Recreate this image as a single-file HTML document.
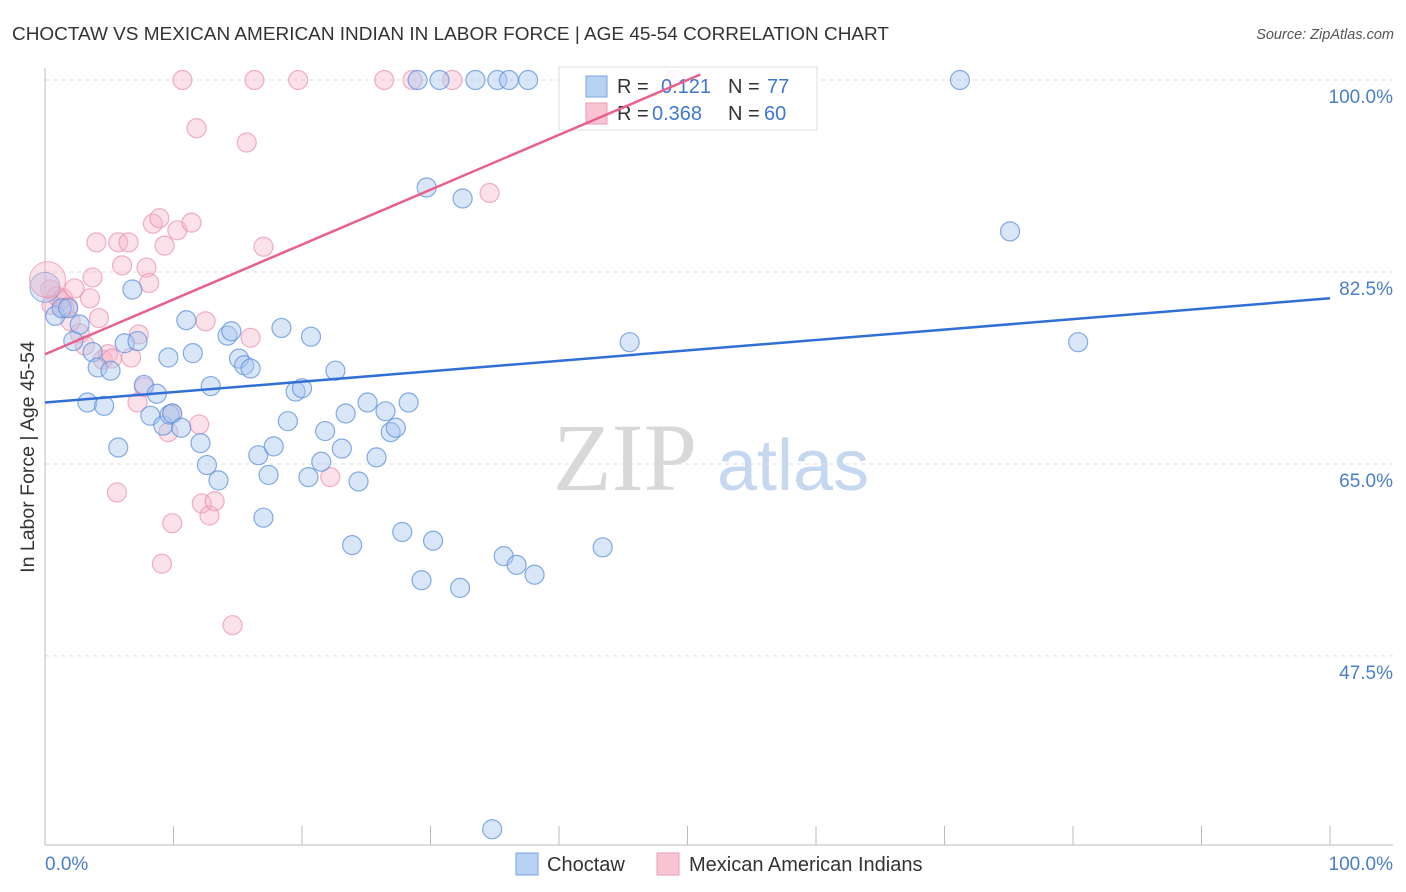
<!DOCTYPE html>
<html><head><meta charset="utf-8"><style>
body{margin:0;background:#fff}
svg{display:block;font-family:"Liberation Sans",sans-serif}
</style></head><body>
<svg id="chart" width="1406" height="892">
<text x="12" y="40" font-size="18" textLength="877" lengthAdjust="spacingAndGlyphs" fill="#333">CHOCTAW VS MEXICAN AMERICAN INDIAN IN LABOR FORCE | AGE 45-54 CORRELATION CHART</text>
<text x="1394" y="39" font-size="14.5" font-style="italic" fill="#555" text-anchor="end">Source: ZipAtlas.com</text>
<text transform="translate(34,457) rotate(-90)" font-size="19.5" fill="#333" text-anchor="middle">In Labor Force | Age 45-54</text>
<g>
<text x="553" y="490" font-family="Liberation Serif,serif" font-size="96" fill="#d8d8d8">ZIP</text>
<text x="717" y="490" font-size="72" fill="#c6d8ef">atlas</text>
</g>
<g id="grid"></g><g id="axes"></g><g id="pts"></g>
<g>
<rect x="559" y="67" width="258" height="63" fill="#fff" fill-opacity="0.85" stroke="#ddd"/>
<rect x="586" y="76" width="21" height="21" fill="#b8d2f3" stroke="#7aa6e0"/>
<rect x="586" y="103" width="21" height="21" fill="#f8c4d4" stroke="#ef9ab5"/>
<text x="617" y="93" font-size="20" fill="#333">R = </text><text x="661" y="93" font-size="20" fill="#3f78cf">0.121</text>
<text x="728" y="93" font-size="20" fill="#333">N = </text><text x="767" y="93" font-size="20" fill="#3f78cf">77</text>
<text x="617" y="120" font-size="20" fill="#333">R = </text><text x="652" y="120" font-size="20" fill="#3f78cf">0.368</text>
<text x="728" y="120" font-size="20" fill="#333">N = </text><text x="764" y="120" font-size="20" fill="#3f78cf">60</text>
</g>
<g id="lines"></g>
<g>
<rect x="516" y="853" width="22" height="22" fill="#b8d2f3" stroke="#7aa6e0"/>
<text x="547" y="871" font-size="20" fill="#333">Choctaw</text>
<rect x="657" y="853" width="22" height="22" fill="#f8c4d4" stroke="#ef9ab5"/>
<text x="689" y="871" font-size="20" fill="#333">Mexican American Indians</text>
</g>
</svg>
<script>
const yTicks=[100,82.5,65,47.5];
const yTickLabels=["100.0%","82.5%","65.0%","47.5%"];
const blueX=[0.8,1.3,1.8,2.7,2.2,3.7,4.1,5.1,3.3,4.6,5.7,6.8,6.2,7.2,7.7,8.2,8.7,9.2,9.7,9.9,10.6,11.0,11.5,9.6,12.1,12.6,12.9,13.5,14.2,14.5,15.1,15.5,16.0,16.6,17.0,17.4,17.8,18.4,18.9,19.5,20.0,20.5,20.7,21.5,21.8,22.6,23.1,23.4,23.9,24.4,25.1,25.8,26.5,26.9,27.3,27.8,28.3,29.3,29.7,30.2,30.7,29.0,32.3,32.5,33.5,34.8,35.2,35.7,36.1,36.7,37.6,38.1,43.4,45.5,71.2,75.1,80.4];
const blueY=[78.5,79.2,79.2,77.7,76.2,75.2,73.8,73.5,70.6,70.3,66.5,80.9,76.0,76.2,72.2,69.4,71.4,68.5,69.5,69.6,68.3,78.1,75.1,74.7,66.9,64.9,72.1,63.5,76.7,77.1,74.6,74.0,73.7,65.8,60.1,64.0,66.6,77.4,68.9,71.6,71.9,63.8,76.6,65.2,68.0,73.5,66.4,69.6,57.6,63.4,70.6,65.6,69.8,67.9,68.3,58.8,70.6,54.4,90.2,58.0,100,100,53.7,89.2,100,31.7,100,56.6,100,55.8,100,54.9,57.4,76.1,100,86.2,76.1];
const pinkX=[0.4,0.9,1.2,1.4,1.8,2.3,2.7,3.1,3.5,3.7,4.0,4.2,4.5,4.9,5.2,5.6,5.7,6.0,6.5,6.7,7.2,7.3,7.7,7.9,8.1,8.4,8.9,9.3,9.1,9.9,9.6,9.9,10.3,10.7,11.4,11.8,12.0,12.2,12.5,12.8,13.2,14.6,16.0,16.3,17.0,15.7,19.7,22.2,26.4,28.6,31.7,34.6,49.0,0.5,1.5,2.0];
const pinkY=[80.9,80.3,79.9,80.1,79.3,81.0,76.9,75.8,80.1,82.0,85.2,78.3,74.5,75.0,74.6,62.4,85.2,83.1,85.2,74.7,70.6,76.8,72.0,82.9,81.5,86.9,87.4,84.9,55.9,59.6,67.9,69.6,86.3,100,87.0,95.6,68.6,61.4,78.0,60.3,61.6,50.3,76.5,100,84.8,94.3,100,63.8,100,100,100,89.7,100,79.5,79.2,78.0];
const blueTrend=[70.6,80.1];
const pinkTrend=[75.0,100.5];
const NS="http://www.w3.org/2000/svg";
const X=v=>45+v*12.85, Y=v=>80+(100-v)*10.97;
function mk(t,a,p){const e=document.createElementNS(NS,t);for(const k in a)e.setAttribute(k,a[k]);p.appendChild(e);return e;}
const grid=document.getElementById('grid');
yTicks.forEach((t,i)=>{
 const l=mk('line',{x1:45,x2:1393,y1:Y(t),y2:Y(t),stroke:'#ddd','stroke-dasharray':'4,4'},grid);
 
 
 const tx=mk('text',{x:1393,y:Y(t)+23,'font-size':19,fill:'#4a7ec9','text-anchor':'end'},grid);
 tx.textContent=yTickLabels[i];
 
 
});
const ax=document.getElementById('axes');
mk('line',{x1:45,x2:45,y1:68,y2:845,stroke:'#bbb'},ax);
mk('line',{x1:45,x2:1393,y1:845,y2:845,stroke:'#bbb'},ax);
for(let i=0;i<=10;i++){const t=mk('line',{x1:X(i*10),x2:X(i*10),y1:826,y2:845,stroke:'#bbb'},ax);
 
 }
const x0=mk('text',{x:45,y:870,'font-size':19,fill:'#4a7ec9'},ax);x0.textContent='0.0%';


const x1=mk('text',{x:1393,y:870,'font-size':19,fill:'#4a7ec9','text-anchor':'end'},ax);x1.textContent='100.0%';


const pts=document.getElementById('pts');
pinkX.forEach((v,i)=>{const c=mk('circle',{cx:X(v),cy:Y(pinkY[i]),r:9.5,fill:'#f5b3c7','fill-opacity':0.4,stroke:'#ec8fac','stroke-opacity':0.7,'stroke-width':1.2},pts);
 
 });
blueX.forEach((v,i)=>{const c=mk('circle',{cx:X(v),cy:Y(blueY[i]),r:9.5,fill:'#a8c7f0','fill-opacity':0.45,stroke:'#5c92dc','stroke-opacity':0.75,'stroke-width':1.2},pts);
 
 });
const big1=mk('circle',{cx:X(0),cy:Y(81.1),r:15,fill:'#a8c7f0','fill-opacity':0.45,stroke:'#5c92dc','stroke-opacity':0.7},pts);


const big2=mk('circle',{cx:X(0.2),cy:Y(81.8),r:18,fill:'#f5b3c7','fill-opacity':0.4,stroke:'#ec8fac','stroke-opacity':0.7},pts);


const ln=document.getElementById('lines');
const bl=mk('line',{x1:X(0),y1:Y(blueTrend[0]),x2:X(100),y2:Y(blueTrend[1]),stroke:'#2f6fd6','stroke-width':2.5},ln);


const pl=mk('line',{x1:X(0),y1:Y(pinkTrend[0]),x2:X(51),y2:Y(pinkTrend[1]),stroke:'#e8608c','stroke-width':2.5},ln);


</script>
</body></html>
